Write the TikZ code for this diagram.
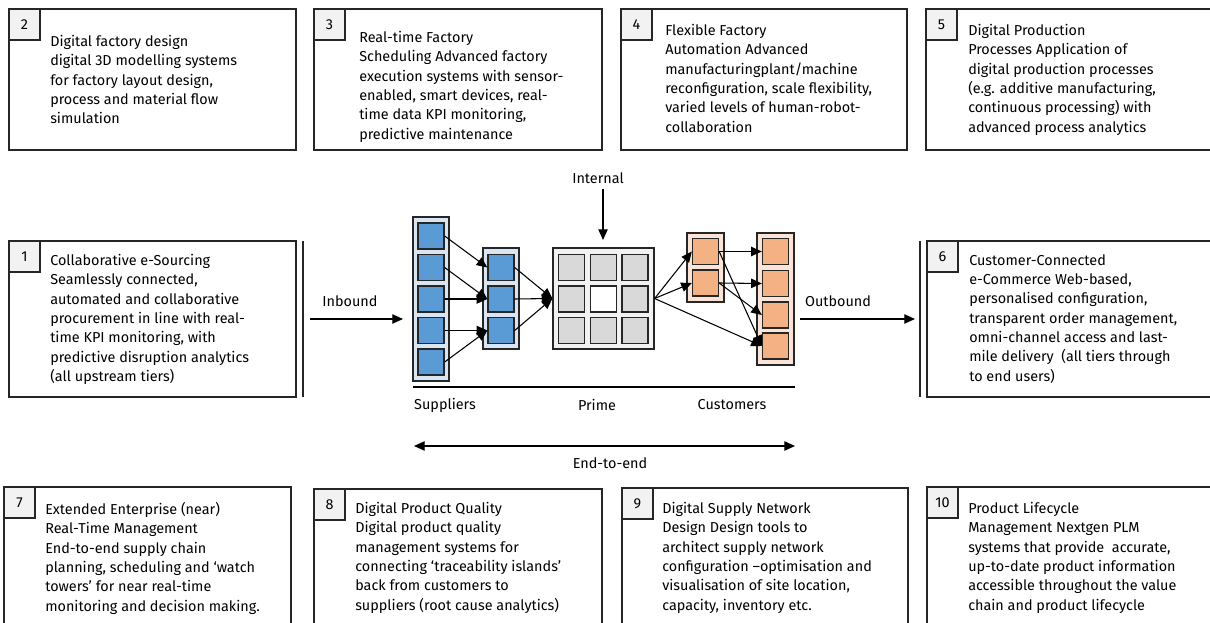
\documentclass[tikz,border=0pt]{standalone}
\usepackage{fontspec}
\setmainfont{Fira Sans}
\usetikzlibrary{arrows.meta,fit}
\definecolor{linec}{HTML}{262626}
\definecolor{numfill}{HTML}{F2F2F2}
\definecolor{bluesq}{HTML}{5B9BD5}
\definecolor{bluecol}{HTML}{DAE5F3}
\definecolor{primefill}{HTML}{F2F2F2}
\definecolor{primesq}{HTML}{D9D9D9}
\definecolor{orsq}{HTML}{F4B183}
\definecolor{orcol}{HTML}{FBE4D5}
\begin{document}
\begin{tikzpicture}[x=0.75pt,y=-0.75pt,
  box/.style={draw=linec,line width=0.9pt,inner sep=0pt,fill=white},
  numbox/.style={draw=linec,line width=0.9pt,fill=numfill,minimum size=23.25pt,inner sep=0pt,anchor=north west,font=\fontsize{10.8}{12}\selectfont},
  txt/.style={anchor=north west,align=left,inner sep=0pt,font=\fontsize{10.8}{14.5}\selectfont},
  lbl/.style={inner sep=0pt,font=\fontsize{10.8}{12}\selectfont},
  colbox/.style={draw=linec,line width=0.9pt,inner sep=0pt},
  sq/.style={draw=linec,line width=1pt,minimum size=19.5pt,inner sep=0pt},
  bsq/.style={sq,fill=bluesq},
  psq/.style={sq,fill=primesq},
  osq/.style={sq,fill=orsq},
  net/.style={draw=black,line width=0.8pt,-{Triangle[length=8pt,width=7pt]}},
  big/.style={draw=black,line width=0.9pt,-{Triangle[length=8pt,width=7pt]}}
]
\useasboundingbox (0,0) rectangle (1210,623);
\clip (0,0) rectangle (1210,623);
\fill[white] (0,0) rectangle (1210,623);

% top row
\node[box,fit={(9,9) (296,150)}] (b2) {};
\node[box,fit={(314,9) (602,150)}] (b3) {};
\node[box,fit={(621,9) (907,150)}] (b4) {};
\node[box,fit={(926,9) (1225,150)}] (b5) {};
\node[numbox] (n2) at (b2.north west) {2};
\node[numbox] (n3) at (b3.north west) {3};
\node[numbox] (n4) at (b4.north west) {4};
\node[numbox] (n5) at (b5.north west) {5};
\node[txt] (t2) at (50,35) {Digital factory design\\digital 3D modelling systems\\for factory layout design,\\process and material flow\\simulation};
\node[txt] (t3) at (359,31) {Real-time Factory\\Scheduling Advanced factory\\execution systems with sensor-\\enabled, smart devices, real-\\time data KPI monitoring,\\predictive maintenance};
\node[txt] (t4) at (665,24) {Flexible Factory\\Automation Advanced\\manufacturingplant/machine\\reconfiguration, scale flexibility,\\varied levels of human-robot-\\collaboration};
\node[txt] (t5) at (968,24) {Digital Production\\Processes Application of\\digital production processes\\(e.g. additive manufacturing,\\continuous processing) with\\advanced process analytics};

% middle row
\node[box,fit={(9,241) (296,397)}] (b1) {};
\node[box,fit={(927,241) (1225,397)}] (b6) {};
\node[numbox] (n1) at (b1.north west) {1};
\node[numbox] (n6) at (b6.north west) {6};
\node[txt] (t1) at (50,254) {Collaborative e-Sourcing\\Seamlessly connected,\\automated and collaborative\\procurement in line with real-\\time KPI monitoring, with\\predictive disruption analytics\\(all upstream tiers)};
\node[txt] (t6) at (969,254) {Customer-Connected\\e-Commerce Web-based,\\personalised configuration,\\transparent order management,\\omni-channel access and last-\\mile delivery~ (all tiers through\\to end users)};
\coordinate (vl1a) at (303,241); \coordinate (vl1b) at (303,397);
\coordinate (vl2a) at (920,241); \coordinate (vl2b) at (920,397);
\draw[linec,line width=0.9pt] (vl1a) -- (vl1b);
\draw[linec,line width=0.9pt] (vl2a) -- (vl2b);

% bottom row
\node[box,fit={(4,487) (291,640)}] (b7) {};
\node[box,fit={(314,489) (602,640)}] (b8) {};
\node[box,fit={(622,488) (908,640)}] (b9) {};
\node[box,fit={(927,487) (1225,640)}] (b10) {};
\node[numbox] (n7) at (b7.north west) {7};
\node[numbox] (n8) at (b8.north west) {8};
\node[numbox] (n9) at (b9.north west) {9};
\node[numbox] (n10) at (b10.north west) {10};
\node[txt] (t7) at (45,502) {Extended Enterprise (near)\\Real-Time Management\\End-to-end supply chain\\planning, scheduling and ‘watch\\towers’ for near real-time\\monitoring and decision making.};
\node[txt] (t8) at (355,502) {Digital Product Quality\\Digital product quality\\management systems for\\connecting ‘traceability islands’\\back from customers to\\suppliers (root cause analytics)};
\node[txt] (t9) at (662,502) {Digital Supply Network\\Design Design tools to\\architect supply network\\configuration –optimisation and\\visualisation of site location,\\capacity, inventory etc.};
\node[txt] (t10) at (968,502) {Product Lifecycle\\Management Nextgen PLM\\systems that provide~ accurate,\\up-to-date product information\\accessible throughout the value\\chain and product lifecycle};

% network columns
\node[colbox,fill=bluecol,fit={(413,217) (449,381)}] (col1) {};
\node[colbox,fill=bluecol,fit={(483,248) (519,349)}] (col2) {};
\node[colbox,fill=primefill,fit={(553,248) (654,349)}] (prime) {};
\node[colbox,fill=orcol,fit={(687,233) (724,302)}] (ccol1) {};
\node[colbox,fill=orcol,fit={(757,233) (794,365)}] (ccol2) {};

\node[bsq] (s11) at (431,236) {};
\node[bsq] (s12) at (431,267.5) {};
\node[bsq] (s13) at (431,299) {};
\node[bsq] (s14) at (431,330.5) {};
\node[bsq] (s15) at (431,362) {};
\node[bsq] (s21) at (501,267.5) {};
\node[bsq] (s22) at (501,299) {};
\node[bsq] (s23) at (501,330.5) {};

\node[psq] (p11) at (571.5,267.5) {};
\node[psq] (p12) at (603.5,267.5) {};
\node[psq] (p13) at (635,267.5) {};
\node[psq] (p21) at (571.5,299) {};
\node[sq,fill=white] (p22) at (603.5,299) {};
\node[psq] (p23) at (635,299) {};
\node[psq] (p31) at (571.5,330.5) {};
\node[psq] (p32) at (603.5,330.5) {};
\node[psq] (p33) at (635,330.5) {};

\node[osq] (c11) at (705.5,251.5) {};
\node[osq] (c12) at (705.5,283) {};
\node[osq] (c21) at (775.5,251.5) {};
\node[osq] (c22) at (775.5,283.5) {};
\node[osq] (c23) at (775.5,315) {};
\node[osq] (c24) at (775.5,346) {};

% network arrows
\draw[net] (s11.east) -- (s21.west);
\draw[net] (s12.east) -- (s22.west);
\draw[net] (s13.east) -- (s22.west);
\draw[net] (s14.east) -- (s23.west);
\draw[net] (s15.east) -- (s23.west);
\draw[net] (s21.east) -- (prime.west);
\draw[net] (s22.east) -- (prime.west);
\draw[net] (s23.east) -- (prime.west);
\draw[net] (prime.east) -- (c11.west);
\draw[net] (prime.east) -- (c12.west);
\draw[net] (prime.east) -- (c24.west);
\draw[net] (c11.east) -- (c21.west);
\draw[net] (c11.east) -- (c24.west);
\draw[net] (c12.east) -- (c22.west);
\draw[net] (c12.east) -- (c23.west);

% labels and axes
\node[lbl] (internal) at (598,178) {Internal};
\coordinate (intA) at (603,189);
\coordinate (intB) at (603,240);
\draw[big] (intA) -- (intB);

\node[lbl] (inbound) at (350,301) {Inbound};
\coordinate (inA) at (310,319);
\coordinate (inB) at (403,319);
\draw[big] (inA) -- (inB);

\node[lbl] (outbound) at (838,301) {Outbound};
\coordinate (outA) at (800,319);
\coordinate (outB) at (915,319);
\draw[big] (outA) -- (outB);

\coordinate (axA) at (413,387);
\coordinate (axB) at (795,387);
\draw[black,line width=0.9pt] (axA) -- (axB);

\node[lbl] (suppliers) at (445,405) {Suppliers};
\node[lbl] (primelbl) at (597,405) {Prime};
\node[lbl] (customers) at (732,405) {Customers};

\coordinate (eeA) at (414,446);
\coordinate (eeB) at (795,446);
\draw[big,{Triangle[length=8pt,width=7pt]}-{Triangle[length=8pt,width=7pt]}] (eeA) -- (eeB);
\node[lbl] (endtoend) at (610,463) {End-to-end};
\end{tikzpicture}
\end{document}
